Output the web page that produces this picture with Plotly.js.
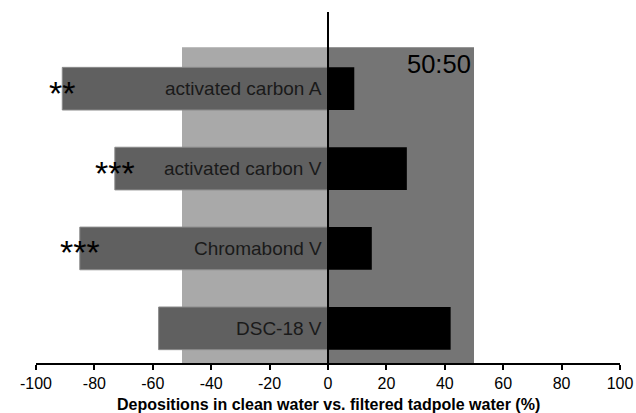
<!DOCTYPE html>
<html>
<head>
<meta charset="utf-8">
<script src="https://cdn.plot.ly/plotly-3.0.1.min.js"></script>
<style>html,body{margin:0;padding:0;background:#fff;}#chart{width:636px;height:413px;}</style>
</head>
<body>
<div id="chart"></div>
<script>
const categories = ["activated carbon A", "activated carbon V", "Chromabond V", "DSC-18 V"];
const positions = [3, 2, 1, 0];
const cleanWater = [-91, -73, -85, -58];
const tadpoleWater = [9, 27, 15, 42];
const stars = ["**", "***", "***", ""];
const xTicks = [-100, -80, -60, -40, -20, 0, 20, 40, 60, 80, 100];
const xTitle = "Depositions in clean water vs. filtered tadpole water (%)";

const font = "'Liberation Sans', Arial, sans-serif";

const traces = [
  {
    type: "bar", orientation: "h", name: "clean water",
    x: cleanWater, y: positions, width: 0.534,
    marker: {color: "#606060", line: {color: "#8a8a8a", width: 1}},
    hoverinfo: "skip"
  },
  {
    type: "bar", orientation: "h", name: "filtered tadpole water",
    x: tadpoleWater, y: positions, width: 0.534,
    marker: {color: "#000000", line: {width: 0}},
    hoverinfo: "skip"
  }
];

const annotations = [];
categories.forEach((c, i) => {
  annotations.push({
    x: 0, y: positions[i], xref: "x", yref: "y", text: c,
    showarrow: false, xanchor: "right", xshift: -4,
    font: {family: font, size: 19, color: "#1a1a1a"}
  });
  if (stars[i]) {
    annotations.push({
      x: cleanWater[i], y: positions[i], xref: "x", yref: "y", text: stars[i],
      showarrow: false, xanchor: "center", yshift: -4,
      font: {family: font, size: 34, color: "#000000"}
    });
  }
});
annotations.push({
  x: 50, y: 3.52, xref: "x", yref: "y", text: "50:50",
  showarrow: false, xanchor: "right", yanchor: "top", xshift: -1, yshift: -1,
  font: {family: font, size: 25.5, color: "#000000"}
});
annotations.push({
  x: 0.5, y: 0, xref: "paper", yref: "paper", text: "<b>" + xTitle + "</b>",
  showarrow: false, xanchor: "center", yanchor: "bottom", yshift: -51, borderpad: 0,
  font: {family: font, size: 16, color: "#000000"}
});

const layout = {
  width: 636, height: 413,
  margin: {l: 36, r: 16, t: 12, b: 50},
  paper_bgcolor: "#ffffff", plot_bgcolor: "#ffffff",
  showlegend: false,
  barmode: "relative",
  xaxis: {
    range: [-100, 100], tickvals: xTicks, ticktext: xTicks.map(String),
    ticks: "outside", ticklen: 5, tickwidth: 2, tickcolor: "#000",
    showline: true, linecolor: "#000", linewidth: 2,
    showgrid: false, zeroline: false,
    tickfont: {family: font, size: 16, color: "#000"},
    fixedrange: true
  },
  yaxis: {
    range: [-0.434, 3.96], showticklabels: false, showgrid: false,
    zeroline: false, showline: false, ticks: "", fixedrange: true
  },
  shapes: [
    {type: "rect", xref: "x", yref: "y", x0: -50, x1: 0, y0: -0.434, y1: 3.52,
     fillcolor: "#a9a9a9", line: {width: 0}, layer: "below"},
    {type: "rect", xref: "x", yref: "y", x0: 0, x1: 50, y0: -0.434, y1: 3.52,
     fillcolor: "#757575", line: {width: 0}, layer: "below"},
    {type: "line", xref: "x", yref: "paper", x0: 0, x1: 0, y0: 0, y1: 1,
     line: {color: "#000", width: 2}, layer: "above"}
  ],
  annotations: annotations
};

Plotly.newPlot("chart", traces, layout, {displayModeBar: false, staticPlot: true});
</script>
</body>
</html>
